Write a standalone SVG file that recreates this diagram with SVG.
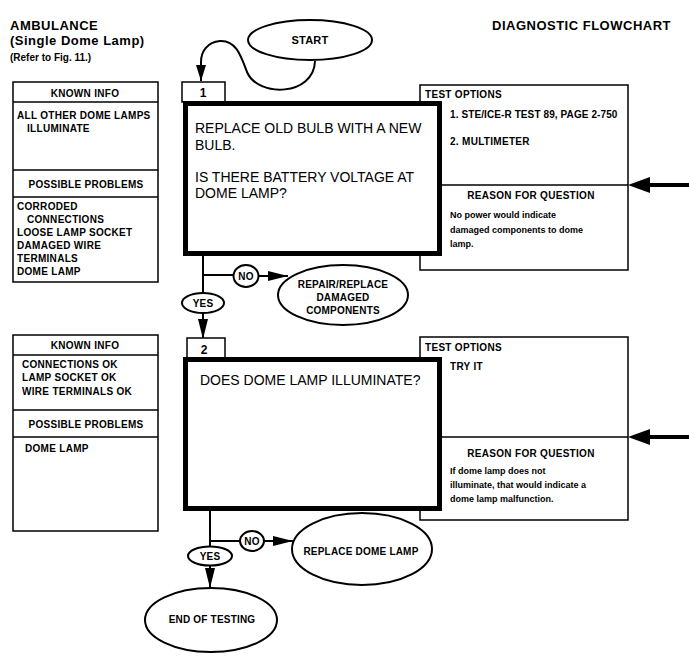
<svg xmlns="http://www.w3.org/2000/svg" width="689" height="664" viewBox="0 0 689 664">
<defs>
<style>
text{font-family:"Liberation Sans",Arial,Helvetica,sans-serif;fill:#000}
.title{font-size:13px;font-weight:bold;letter-spacing:0.5px}
.sub{font-size:10px;font-weight:bold}
.hdr{font-size:10px;font-weight:bold;letter-spacing:0.3px}
.item{font-size:10px;font-weight:bold;letter-spacing:0.3px}
.small{font-size:9px;font-weight:bold}
.q{font-size:14px}
.lbl{font-size:10px;font-weight:bold;letter-spacing:0.2px}
.num{font-size:12px;font-weight:bold}
.thin{fill:#fff;stroke:#000;stroke-width:1.5}
.thick{fill:#fff;stroke:#000;stroke-width:5}
.line{fill:none;stroke:#000;stroke-width:1.5}
.conn{fill:none;stroke:#000;stroke-width:2}
.oval{fill:#fff;stroke:#000;stroke-width:2}
</style>
<marker id="ah" markerUnits="userSpaceOnUse" markerWidth="20" markerHeight="10" refX="20" refY="5" orient="auto">
<path d="M0,0 L20,5 L0,10 z" fill="#000"/>
</marker>
<marker id="ah2" markerUnits="userSpaceOnUse" markerWidth="16" markerHeight="10" refX="16" refY="5" orient="auto">
<path d="M0,0 L16,5 L0,10 z" fill="#000"/>
</marker>
</defs>
<rect width="689" height="664" fill="#fff"/>

<g id="header">
<text class="title" x="10" y="30">AMBULANCE</text>
<text class="title" x="10" y="45">(Single Dome Lamp)</text>
<text class="sub" x="10" y="61">(Refer to Fig. 11.)</text>
<text class="title" x="492" y="30">DIAGNOSTIC FLOWCHART</text>
</g>

<g id="connectors">
<path class="conn" d="M315,61 C314,96 258,98 247,72 C241,56 236,40 220,41 C207,42 201,52 201,62 L201,81" marker-end="url(#ah2)"/>
<line class="conn" x1="203" y1="256" x2="203" y2="293"/>
<line class="conn" x1="203" y1="275" x2="234" y2="275"/>
<line class="conn" x1="258" y1="276" x2="288" y2="276" marker-end="url(#ah)"/>
<line class="conn" x1="203" y1="313" x2="203" y2="339" marker-end="url(#ah)"/>
<line class="conn" x1="210" y1="511" x2="210" y2="547"/>
<line class="conn" x1="210" y1="541" x2="241" y2="541"/>
<line class="conn" x1="264" y1="541" x2="293" y2="541" marker-end="url(#ah)"/>
<line class="conn" x1="210" y1="565" x2="210" y2="588" marker-end="url(#ah)"/>
<path d="M689,183 L650,183 L650,177 L628,185 L650,193 L650,187 L689,187 z" fill="#000"/>
<path d="M689,435 L650,435 L650,429 L628,437 L650,445 L650,439 L689,439 z" fill="#000"/>
</g>

<g id="start">
<ellipse class="oval" cx="310" cy="40" rx="62" ry="20"/>
<text class="lbl" x="310" y="44" text-anchor="middle" style="font-size:11px">START</text>
</g>

<g id="info1">
<rect class="thin" x="13" y="82" width="145" height="200"/>
<line class="line" x1="13" y1="102" x2="158" y2="102"/>
<line class="line" x1="13" y1="170" x2="158" y2="170"/>
<line class="line" x1="13" y1="197" x2="158" y2="197"/>
<text class="hdr" x="85" y="97" text-anchor="middle">KNOWN INFO</text>
<text class="item" x="17" y="119">ALL OTHER DOME LAMPS</text>
<text class="item" x="27" y="132">ILLUMINATE</text>
<text class="hdr" x="86" y="188" text-anchor="middle">POSSIBLE PROBLEMS</text>
<text class="item" x="17" y="210">CORRODED</text>
<text class="item" x="27" y="223">CONNECTIONS</text>
<text class="item" x="17" y="236">LOOSE LAMP SOCKET</text>
<text class="item" x="17" y="249">DAMAGED WIRE</text>
<text class="item" x="17" y="262">TERMINALS</text>
<text class="item" x="17" y="275">DOME LAMP</text>
</g>

<g id="test1">
<rect class="thin" x="420" y="85" width="208" height="185"/>
<line class="line" x1="440" y1="185" x2="628" y2="185"/>
<text class="hdr" x="425" y="98">TEST OPTIONS</text>
<text class="item" x="450" y="118" style="letter-spacing:0.1px">1. STE/ICE-R TEST 89, PAGE 2-750</text>
<text class="item" x="450" y="145">2. MULTIMETER</text>
<text class="hdr" x="531" y="199" text-anchor="middle">REASON FOR QUESTION</text>
<text class="small" x="450" y="218">No power would indicate</text>
<text class="small" x="450" y="233">damaged components to dome</text>
<text class="small" x="450" y="247">lamp.</text>
</g>

<g id="step1">
<rect class="thin" x="182" y="82" width="43" height="20"/>
<text class="num" x="203" y="97" text-anchor="middle">1</text>
<rect class="thick" x="185.5" y="103.5" width="254" height="150"/>
<text class="q" x="195" y="133">REPLACE OLD BULB WITH A NEW</text>
<text class="q" x="195" y="150">BULB.</text>
<text class="q" x="195" y="182">IS THERE BATTERY VOLTAGE AT</text>
<text class="q" x="195" y="198">DOME LAMP?</text>
</g>

<g id="no1">
<ellipse class="oval" cx="246" cy="276" rx="12.5" ry="11"/>
<text class="lbl" x="246" y="280" text-anchor="middle">NO</text>
</g>
<g id="yes1">
<ellipse class="oval" cx="203" cy="303" rx="21" ry="10"/>
<text class="lbl" x="203" y="307" text-anchor="middle">YES</text>
</g>
<g id="repair">
<ellipse class="oval" cx="343" cy="295" rx="65" ry="30"/>
<text class="lbl" x="343" y="288" text-anchor="middle">REPAIR/REPLACE</text>
<text class="lbl" x="343" y="301" text-anchor="middle">DAMAGED</text>
<text class="lbl" x="343" y="314" text-anchor="middle">COMPONENTS</text>
</g>

<g id="info2">
<rect class="thin" x="13" y="335" width="145" height="196"/>
<line class="line" x1="13" y1="355" x2="158" y2="355"/>
<line class="line" x1="13" y1="410" x2="158" y2="410"/>
<line class="line" x1="13" y1="437" x2="158" y2="437"/>
<text class="hdr" x="85" y="349" text-anchor="middle">KNOWN INFO</text>
<text class="item" x="22" y="368">CONNECTIONS OK</text>
<text class="item" x="22" y="381">LAMP SOCKET OK</text>
<text class="item" x="22" y="395">WIRE TERMINALS OK</text>
<text class="hdr" x="86" y="428" text-anchor="middle">POSSIBLE PROBLEMS</text>
<text class="item" x="25" y="452">DOME LAMP</text>
</g>

<g id="test2">
<rect class="thin" x="420" y="337" width="208" height="183"/>
<line class="line" x1="440" y1="437" x2="628" y2="437"/>
<text class="hdr" x="425" y="351">TEST OPTIONS</text>
<text class="item" x="450" y="370">TRY IT</text>
<text class="hdr" x="531" y="457" text-anchor="middle">REASON FOR QUESTION</text>
<text class="small" x="450" y="474">If dome lamp does not</text>
<text class="small" x="450" y="488">illuminate, that would indicate a</text>
<text class="small" x="450" y="502">dome lamp malfunction.</text>
</g>

<g id="step2">
<rect class="thin" x="187" y="338" width="38" height="20"/>
<text class="num" x="204" y="354" text-anchor="middle">2</text>
<rect class="thick" x="185.5" y="359.5" width="254" height="149"/>
<text class="q" x="200" y="385">DOES DOME LAMP ILLUMINATE?</text>
</g>

<g id="no2">
<ellipse class="oval" cx="252" cy="541" rx="12" ry="10"/>
<text class="lbl" x="252" y="545" text-anchor="middle">NO</text>
</g>
<g id="yes2">
<ellipse class="oval" cx="210" cy="556" rx="22" ry="9.5"/>
<text class="lbl" x="210" y="560" text-anchor="middle">YES</text>
</g>
<g id="replace">
<ellipse class="oval" cx="362" cy="549" rx="70" ry="36"/>
<text class="lbl" x="361" y="555" text-anchor="middle">REPLACE DOME LAMP</text>
</g>
<g id="end">
<ellipse class="oval" cx="211" cy="620" rx="66" ry="32"/>
<text class="lbl" x="212" y="623" text-anchor="middle">END OF TESTING</text>
</g>
</svg>
